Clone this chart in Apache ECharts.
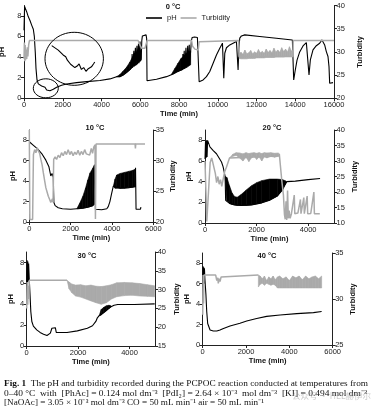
<!DOCTYPE html>
<html><head><meta charset="utf-8">
<script src="https://cdn.jsdelivr.net/npm/echarts@6/dist/echarts.min.js"></script>
<style>html,body{margin:0;padding:0;background:#fff;}#c{width:372px;height:413px;}</style>
</head><body><div id="c"></div>
<script>
// ---------- tick labels ----------
const phTicks = [0, 2, 4, 6, 8];
const turbTicks0 = [20, 25, 30, 35, 40];
const turbTicks10 = [20, 25, 30, 35];
const turbTicks20 = [10, 15, 20, 25, 30, 35, 40];
const turbTicks30 = [15, 20, 25, 30, 35, 40];
const turbTicks40 = [25, 30, 35];
const timeTicks16k = [0, 2000, 4000, 6000, 8000, 10000, 12000, 14000, 16000];
const timeTicks6k = [0, 2000, 4000, 6000];
const timeTicks5k = [0, 2000, 4000];
const panelTitles = ['0 °C', '10 °C', '20 °C', '30 °C', '40 °C'];

// ---------- 0 °C ----------
const ph0C = [[0,6.6],[30,8.9],[52,8.9],[137,8.4],[223,7.9],[309,7.55],[395,7.1],[481,6.7],[533,6.0],[584,4.4],[619,2.9],[670,1.8],[739,1.4],[911,1.2],[1083,1.07],[1169,0.81],[1254,0.65],[1340,0.74],[1426,0.81],[1512,0.87],[1684,1.07],[1942,1.26],[2200,1.39],[2715,1.52],[3231,1.62],[3918,1.72],[4434,1.88],[4778,2.1],[4950,2.1],[5120,2.25],[5293,2.5],[5450,2.75],[5560,3.0],[5580,4.3],[5600,3.0],[5650,3.1],[5670,4.6],[5690,3.1],[5730,3.2],[5750,4.9],[5770,3.2],[5810,3.3],[5830,5.1],[5850,3.3],[5890,3.4],[5910,5.3],[5930,3.4],[5970,3.5],[5990,5.5],[6010,3.6],[6050,3.9],[6080,5.6],[6110,6.05],[6200,6.15],[6300,6.15],[6330,5.8],[6350,1.7],[6840,1.84],[7355,2.1],[7700,2.35],[7870,2.55],[8050,2.7],[8180,2.8],[8200,4.3],[8220,2.85],[8270,4.6],[8290,2.9],[8360,4.9],[8380,3.0],[8450,5.1],[8470,3.1],[8530,5.2],[8550,3.2],[8600,3.3],[8640,5.6],[8680,5.9],[8800,5.95],[8950,5.9],[8990,5.8],[9040,1.6],[9245,1.78],[9417,2.1],[9589,2.6],[9761,3.4],[9933,4.2],[10105,4.85],[10243,5.35],[10277,5.45],[10311,1.95],[10363,4.37],[10449,4.9],[10621,5.18],[10793,5.34],[10965,5.5],[11016,5.53],[11050,2.75],[11085,4.7],[11136,5.83],[11222,6.05],[11394,6.15],[12167,6.0],[13026,5.83],[13851,5.66],[13920,1.78],[13989,2.6],[14092,3.7],[14229,4.5],[14401,5.08],[14573,5.4],[14659,5.5],[14710,2.27],[14779,3.72],[14916,4.7],[15088,5.1],[15260,5.34],[15381,5.66],[15432,5.73],[15518,5.18],[15604,4.53],[15690,4.05],[15742,3.07],[15776,1.46],[15862,1.62],[15948,1.52]];
const bandPH0a = [[4778,2.1,2.1],[4950,2.1,2.3],[5120,2.25,2.65],[5290,2.5,3.0],[5460,2.75,3.5],[5600,3.0,4.0],[5800,3.25,4.4],[6050,3.7,4.7]];
const bandPH0b = [[7600,2.3,2.3],[7790,2.45,2.9],[7950,2.6,3.4],[8100,2.72,3.85],[8250,2.85,4.1],[8400,3.0,4.35],[8600,3.25,4.6]];
const turb0C = [[0,28.5],[20,32],[40,28],[60,31.5],[80,28.2],[110,30.5],[140,28.5],[170,31],[200,29],[240,31.5],[280,32.45],[5890,32.45],[5980,31.5],[6070,30.8],[6150,30.4],[6240,30.8],[6320,31.9],[6360,32.45],[8650,32.45],[8700,31.2],[8820,30.6],[8990,30.4],[9040,32.2],[9060,32.45],[11080,32.45],[11100,29.0],[13880,29.0],[13895,32.45],[16000,32.45]];
const bandT0 = [[11100,28.6,29.6],[11200,28.5,29.9],[11300,28.5,29.5],[11400,28.5,30.4],[11500,28.5,29.6],[11600,28.6,29.8],[11700,28.6,30.3],[11800,28.6,29.6],[11900,28.6,30.0],[12000,28.7,29.7],[12100,28.7,30.5],[12200,28.7,29.8],[12300,28.7,30.1],[12400,28.7,29.7],[12500,28.8,30.6],[12600,28.8,29.9],[12700,28.8,30.3],[12800,28.8,29.8],[12900,28.8,30.8],[13000,28.9,30.0],[13100,28.9,30.4],[13200,28.9,29.9],[13300,28.9,30.9],[13400,28.9,30.1],[13500,29.0,30.6],[13600,29.0,30.0],[13700,29.0,31.1],[13800,29.0,30.2],[13880,29.0,30.4]];
const insetC = [[900,1.30],[1019,1.18],[1108,1.05],[1155,1.00],[1185,0.91],[1214,0.95],[1244,0.80],[1280,0.84],[1321,0.71],[1363,0.75],[1398,0.81],[1440,0.66],[1481,0.71],[1523,0.61],[1558,0.67],[1594,0.64],[1623,0.73],[1641,0.69],[1665,0.82],[1683,0.86]];

// ---------- 10 °C ----------
const ph10C = [[0,7.85],[200,7.5],[400,7.15],[600,6.7],[800,6.05],[950,5.4],[1040,4.5],[1100,4.75],[1140,4.9],[1160,4.4],[1190,1.9],[1250,1.6],[1400,1.4],[1600,1.3],[2000,1.25],[2300,1.3],[2590,1.35],[2830,1.45],[3070,1.6],[3150,1.7],[3170,5.6],[3200,1.25],[3500,1.2],[3750,1.3],[3820,1.5],[3900,2.0],[3985,2.8],[4065,3.5],[4400,3.3],[4800,3.35],[5110,3.45],[5140,5.3],[5165,1.25],[5380,1.25],[5400,1.45]];
const bandPH10a = [[2300,1.3,1.3],[2430,1.3,1.8],[2590,1.35,2.5],[2720,1.4,3.3],[2830,1.45,4.1],[2940,1.5,4.8],[3070,1.6,5.25],[3150,1.7,5.6]];
const bandPH10b = [[4065,3.5,3.5],[4150,3.3,4.2],[4230,3.3,4.6],[4400,3.3,4.75],[4600,3.3,4.85],[4800,3.35,4.95],[5000,3.4,5.05],[5110,3.45,5.15]];
const turb10C = [[0,35],[25,20.4],[160,20.4],[200,31],[260,31.8],[320,31.3],[380,32.1],[440,31.6],[500,31.2],[560,30.2],[620,29.3],[680,28.0],[740,26.8],[800,25.6],[860,24.9],[920,24.2],[980,23.7],[1040,23.2],[1080,22.9],[1120,23.8],[1150,23.2],[1180,30.2],[1250,30.6],[1320,30.2],[1400,30.9],[1480,30.5],[1560,31.3],[1640,30.8],[1720,31.5],[1800,31.0],[1880,31.8],[1960,31.0],[2040,31.5],[2120,30.8],[2200,31.4],[2280,31.0],[2360,31.7],[2440,30.9],[2520,31.5],[2600,31.0],[2680,31.8],[2760,31.1],[2840,31.4],[2920,30.9],[3000,32.0],[3060,31.2],[3120,32.2],[3180,32.6],[3200,20.5],[3230,32.7],[5120,32.7],[5135,32.0],[5150,32.7],[5600,32.7]];

// ---------- 20 °C ----------
const ph20C = [[0,6.2],[20,7.9],[40,6.3],[60,8.0],[80,6.4],[100,8.0],[130,7.8],[190,7.36],[320,7.0],[445,6.7],[570,6.2],[640,5.9],[700,5.45],[740,5.0],[780,4.5],[800,2.2],[950,1.9],[1150,1.75],[1400,1.7],[1800,1.75],[2200,1.95],[2500,2.2],[2800,2.6],[3000,3.2],[3100,3.7],[3170,4.0],[3500,4.05],[4000,4.2],[4460,4.3]];
const bandPH20 = [[780,4.5,4.5],[850,2.2,4.4],[950,1.9,3.6],[1050,1.8,2.9],[1150,1.75,2.55],[1250,1.7,2.5],[1400,1.7,2.75],[1600,1.7,3.2],[1800,1.75,3.6],[2000,1.85,3.9],[2200,1.95,4.1],[2500,2.2,4.25],[2800,2.6,4.25],[3000,3.2,4.2],[3100,3.7,4.1],[3170,4.0,4.0]];
const turb20C = [[0,30],[50,30.5],[70,10.5],[130,11],[200,29.5],[260,31],[330,30.5],[400,26],[450,23],[500,25],[550,22.5],[600,24],[650,21.8],[700,24],[760,26.5],[830,28],[950,31],[2850,31.6],[2880,32.3],[2920,28.7],[2980,23.4],[3040,19],[3080,12.7],[3110,11.2],[3140,17],[3170,11],[3200,20.5],[3230,11.5],[3260,14],[3300,11.5],[3350,13],[3400,12.8],[3460,19],[3480,13],[3600,13.2],[3700,17.6],[3720,13],[3830,18.2],[3850,13],[3960,18.7],[3980,13],[4100,13.1],[4220,20],[4240,13],[4450,13]];
const bandT20 = [[950,31,31],[1080,31.5,32.2],[1210,31.8,32.7],[1340,31.0,32.6],[1470,30.0,32.3],[1590,31.2,32.7],[1700,29.8,32.4],[1800,31.0,32.6],[1900,31.5,32.7],[2000,30.5,32.5],[2100,31.3,32.7],[2200,30.0,32.4],[2300,31.4,32.7],[2400,31.0,32.6],[2550,31.5,32.7],[2700,31.2,32.5],[2850,31.6,32.6]];

// ---------- 30 °C ----------
const ph30C = [[0,5.8],[15,8.2],[30,6.0],[45,8.1],[60,6.2],[75,7.9],[100,6.4],[130,4.9],[160,3.3],[200,2.35],[260,1.9],[390,1.55],[520,1.3],[655,1.13],[790,1.0],[850,1.02],[920,1.23],[980,1.7],[1050,1.87],[1115,1.75],[1150,1.3],[1200,1.13],[1570,1.29],[1970,1.45],[2360,1.7],[2560,1.94],[2690,2.35],[2750,2.7],[2820,2.9],[2900,3.0],[3000,3.2],[3100,3.4],[3200,3.6],[3280,3.75],[3400,3.9],[3540,3.97],[4190,3.97],[4980,4.03]];
const bandPH30 = [[2820,2.9,2.9],[2900,3.0,3.5],[3000,3.2,3.7],[3100,3.4,3.85],[3200,3.6,3.9],[3280,3.75,3.85]];
const turb30C = [[0,25],[20,32],[40,26],[60,31],[80,27.5],[100,32.5],[1570,32.5]];
const bandT30 = [[1570,32.5,32.5],[1650,30.2,32.0],[1750,29.2,31.5],[1900,28.3,31.2],[2100,28.0,31.3],[2300,27.5,31.0],[2500,27.0,31.2],[2700,26.5,30.9],[2900,26.1,30.8],[3100,26.5,31.0],[3300,27.5,31.3],[3500,28.1,31.8],[3800,28.4,31.9],[4100,28.5,31.8],[4400,28.3,31.6],[4700,28.2,31.3],[4980,28.1,31.0]];

// ---------- 40 °C ----------
const ph40C = [[0,5.6],[15,7.7],[30,5.8],[45,7.6],[60,6.0],[80,7.5],[100,6.5],[150,4.9],[185,3.3],[230,2.1],[340,1.47],[490,1.37],[650,1.37],[800,1.47],[930,1.6],[960,1.75],[1260,1.86],[1720,2.12],[2030,2.35],[2490,2.6],[2950,2.8],[3570,2.94],[4340,3.07],[5110,3.17],[5490,3.27]];
const turb40C = [[0,28.3],[20,32.6],[40,29.5],[60,32.6],[600,32.6],[650,32.0],[700,32.3],[720,31.7],[760,32.2],[800,31.9],[850,32.4],[880,32.6],[2570,32.6]];
const bandT40 = [[2570,31.3,32.6],[2650,31.6,32.5],[2750,31.7,32.2],[2850,31.5,32.5],[2950,31.7,32.0],[3050,31.6,32.4],[3150,31.5,32.2],[3250,31.6,32.5],[3350,31.5,32.1],[3450,31.2,32.4],[3550,31.2,32.5],[3700,31.2,32.2],[3850,31.2,32.4],[4000,31.2,32.0],[4150,31.2,32.5],[4300,31.2,32.3],[4450,31.2,32.5],[4600,31.2,32.1],[4750,31.2,32.5],[4900,31.2,32.2],[5050,31.2,32.4],[5200,31.2,32.5],[5350,31.2,32.2],[5490,31.2,32.5]];

// ---------- chart ----------
const FONT = 'Liberation Sans';
const AX = '#222';
const GREY = '#aaaaaa';
const grids = [
  {left:24, top:5.5, width:310, height:92.8},
  {left:29.3, top:130, width:124, height:92},
  {left:205, top:130, width:129, height:93},
  {left:26.7, top:252, width:128.5, height:94},
  {left:202.7, top:253, width:130, height:92},
  {left:51.7, top:43.8, width:44, height:29.7}
].map(g => Object.assign({outerBoundsMode:'none', containLabel:false}, g));

const xMax = [16000, 6000, 5000, 5000, 6000];
const xTicks = [timeTicks16k, timeTicks6k, timeTicks5k, timeTicks5k, timeTicks6k];
const turbTicks = [turbTicks0, turbTicks10, turbTicks20, turbTicks30, turbTicks40];
const rightGap = [18, 16, 17, 18, 16];
const plain = v => String(v);

function axisCommon(){
  return {
    axisLine:{show:true, onZero:false, lineStyle:{color:AX, width:1}},
    splitLine:{show:false},
  };
}
const xAxes = [], yAxes = [];
for (let i = 0; i < 5; i++) {
  xAxes.push(Object.assign(axisCommon(), {
    gridIndex:i, type:'value', min:0, max:xMax[i],
    axisTick:{show:true, length:3, customValues:xTicks[i], lineStyle:{color:AX}},
    axisLabel:{customValues:xTicks[i], formatter:plain, fontFamily:FONT, fontSize:7.5, color:AX, margin:3},
    name:'Time (min)', nameLocation:'middle', nameGap:12,
    nameTextStyle:{fontFamily:FONT, fontSize:7.5, fontWeight:'bold', color:'#111'}
  }));
  yAxes.push(Object.assign(axisCommon(), {
    gridIndex:i, type:'value', position:'left', min:0, max:9,
    axisTick:{show:true, length:3, customValues:phTicks, lineStyle:{color:AX}},
    axisLabel:{customValues:phTicks, formatter:plain, fontFamily:FONT, fontSize:7.5, color:AX, margin:2.5},
    name:'pH', nameLocation:'middle', nameRotate:90, nameGap:12,
    nameTextStyle:{fontFamily:FONT, fontSize:7.5, fontWeight:'bold', color:'#111'}
  }));
  const tt = turbTicks[i];
  yAxes.push(Object.assign(axisCommon(), {
    gridIndex:i, type:'value', position:'right', min:tt[0], max:tt[tt.length-1],
    axisTick:{show:true, length:3, customValues:tt, lineStyle:{color:AX}},
    axisLabel:{customValues:tt, formatter:plain, fontFamily:FONT, fontSize:7.5, color:AX, margin:2.5},
    name:'Turbidity', nameLocation:'middle', nameRotate:90, nameGap:rightGap[i],
    nameTextStyle:{fontFamily:FONT, fontSize:7.5, fontWeight:'bold', color:'#111'}
  }));
}
// inset axes (hidden)
xAxes.push({gridIndex:5, type:'value', min:900, max:1700, show:false});
yAxes.push({gridIndex:5, type:'value', min:0.55, max:1.35, show:false});

function lineS(name, xi, yi, data, color, w, z){
  return {name, type:'line', xAxisIndex:xi, yAxisIndex:yi, data, symbol:'none', showSymbol:false,
    lineStyle:{color, width:w}, itemStyle:{color}, z, silent:true, animation:false};
}
function bandS(xi, yi, data, color, z){
  return {type:'custom', xAxisIndex:xi, yAxisIndex:yi, z, silent:true, clip:true, animation:false,
    data, encode:{x:0, y:[1,2]},
    renderItem:function(params, api){
      const i = params.dataIndex;
      if (i >= data.length - 1) return null;
      const a = data[i], b = data[i+1];
      const pts = [api.coord([a[0],a[1]]), api.coord([b[0],b[1]]), api.coord([b[0],b[2]]), api.coord([a[0],a[2]])];
      return {type:'polygon', shape:{points:pts}, style:{fill:color, stroke:color, lineWidth:0.6}};
    }};
}

const series = [
  lineS('pH', 0, 0, ph0C, '#000', 1.1, 3),
  bandS(0, 0, bandPH0a, '#000', 3),
  bandS(0, 0, bandPH0b, '#000', 3),
  lineS('Turbidity', 0, 1, turb0C, GREY, 1.5, 4),
  bandS(0, 1, bandT0, GREY, 4),
  lineS('inset', 5, 10, insetC, '#000', 1.1, 3),

  lineS('pH10', 1, 2, ph10C, '#000', 1.1, 3),
  bandS(1, 2, bandPH10a, '#000', 3),
  bandS(1, 2, bandPH10b, '#000', 3),
  lineS('T10', 1, 3, turb10C, GREY, 1.5, 4),

  lineS('pH20', 2, 4, ph20C, '#000', 1.1, 3),
  bandS(2, 4, bandPH20, '#000', 3),
  lineS('T20', 2, 5, turb20C, GREY, 1.5, 4),
  bandS(2, 5, bandT20, GREY, 4),

  lineS('pH30', 3, 6, ph30C, '#000', 1.1, 3),
  bandS(3, 6, bandPH30, '#000', 3),
  lineS('T30', 3, 7, turb30C, GREY, 1.5, 4),
  bandS(3, 7, bandT30, GREY, 4),

  lineS('pH40', 4, 8, ph40C, '#000', 1.1, 3),
  lineS('T40', 4, 9, turb40C, GREY, 1.5, 4),
  bandS(4, 9, bandT40, GREY, 4)
];

// caption scaling helper
const mc = document.createElement('canvas').getContext('2d');
function fitScale(text, font, target){
  mc.font = font;
  const w = mc.measureText(text).width;
  return Math.max(0.8, Math.min(1.2, target / w));
}
const CAPF = 'Liberation Serif';
const CAPS = 8.6;
const cap1a = 'Fig. 1';
const cap1b = '  The pH and turbidity recorded during the PCPOC reaction conducted at temperatures from';
const cap2 = '0–40 °C  with  [PhAc] = 0.124 mol dm⁻³  [PdI₂] = 2.64 × 10⁻³  mol dm⁻³  [KI] = 0.494 mol dm⁻³';
const cap3 = '[NaOAc] = 3.05 × 10⁻³ mol dm⁻³ CO = 50 mL min⁻¹ air = 50 mL min⁻¹';
mc.font = 'bold ' + CAPS + 'px "' + CAPF + '"';
const wBold = mc.measureText(cap1a).width;
mc.font = CAPS + 'px "' + CAPF + '"';
const wRest = mc.measureText(cap1b).width;
const s1 = Math.max(0.8, Math.min(1.2, 364 / (wBold + wRest)));
const s2 = fitScale(cap2, CAPS + 'px "' + CAPF + '"', 363);
const s3 = fitScale(cap3, CAPS + 'px "' + CAPF + '"', 260);

const titlePos = [[173,6.5],[95,127.5],[272,127.5],[87,255.5],[267,255.5]];
const graphics = titlePos.map((p, i) => ({
  type:'text', x:p[0], y:p[1], z:10, silent:true,
  style:{text:panelTitles[i], fontFamily:FONT, fontSize:7.5, fontWeight:'bold', fill:'#111', align:'center', verticalAlign:'middle'}
}));
graphics.push(
  {type:'ellipse', shape:{cx:74.2, cy:58.8, rx:29.2, ry:26.5}, style:{fill:'none', stroke:'#000', lineWidth:1}, z:10, silent:true},
  {type:'ellipse', shape:{cx:45.8, cy:88.3, rx:12.5, ry:9.5}, style:{fill:'none', stroke:'#000', lineWidth:1}, z:10, silent:true},
  {type:'text', x:4, y:384, scaleX:s1, originX:0, silent:true,
    style:{text:'{b|' + cap1a + '}' + cap1b, fontFamily:CAPF, fontSize:CAPS, fill:'#111', verticalAlign:'middle',
      rich:{b:{fontFamily:CAPF, fontSize:CAPS, fontWeight:'bold', fill:'#111'}}}},
  {type:'text', x:4, y:393.5, scaleX:s2, originX:0, silent:true,
    style:{text:cap2, fontFamily:CAPF, fontSize:CAPS, fill:'#111', verticalAlign:'middle'}},
  {type:'text', x:4, y:403, scaleX:s3, originX:0, silent:true,
    style:{text:cap3, fontFamily:CAPF, fontSize:CAPS, fill:'#111', verticalAlign:'middle'}},
  {type:'text', x:292, y:396, silent:true, z:20,
    style:{text:'公众号 · HEL赫伊尔', fontFamily:'Noto Sans CJK SC', fontSize:8.5, fill:'rgba(160,160,160,0.55)', verticalAlign:'middle'}}
);

const chart = echarts.init(document.getElementById('c'), null, {renderer:'canvas'});
chart.setOption({
  animation:false,
  backgroundColor:'#fff',
  grid:grids,
  xAxis:xAxes,
  yAxis:yAxes,
  legend:{show:true, data:[{name:'pH', icon:'rect'}, {name:'Turbidity', icon:'rect'}], left:146, top:14,
    itemWidth:16, itemHeight:1.6, itemGap:4, padding:0,
    textStyle:{fontFamily:FONT, fontSize:7.5, color:'#222'}},
  series:series,
  graphic:graphics
});
</script></body></html>
